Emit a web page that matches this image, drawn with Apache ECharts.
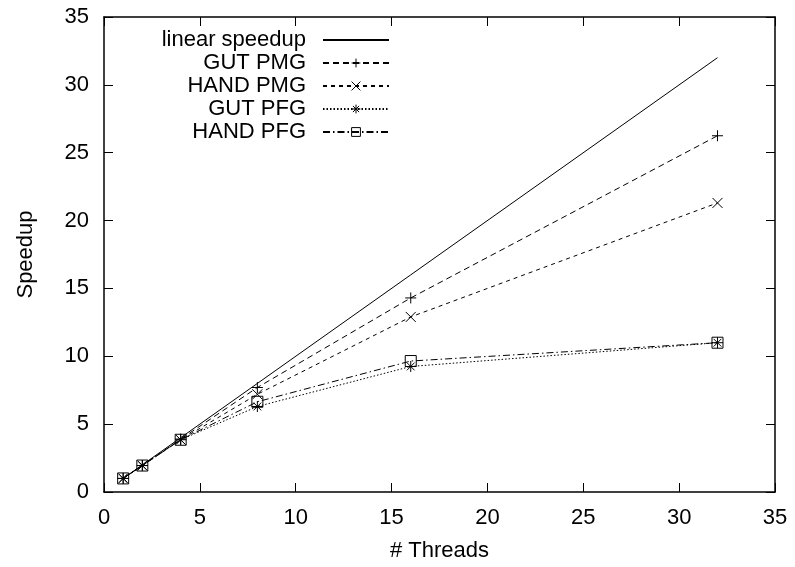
<!DOCTYPE html>
<html>
<head>
<meta charset="utf-8">
<script src="https://cdn.jsdelivr.net/npm/echarts@6/dist/echarts.min.js"></script>
<style>html,body{margin:0;padding:0;background:#fff;}#c{width:795px;height:567px;}</style>
</head>
<body>
<div id="c"></div>
<script>
const threads = [1, 2, 4, 8, 16, 32];
const linearSpeedup = [1, 2, 4, 8, 16, 32];
const gutPMG = [1, 1.95, 3.9, 7.7, 14.3, 26.25];
const handPMG = [1, 1.95, 3.85, 7.2, 12.9, 21.3];
const gutPFG = [1, 1.95, 3.85, 6.3, 9.25, 11.0];
const handPFG = [1, 1.95, 3.85, 6.65, 9.65, 11.0];
const seriesNames = ['linear speedup', 'GUT PMG', 'HAND PMG', 'GUT PFG', 'HAND PFG'];
const axisTicks = [0, 5, 10, 15, 20, 25, 30, 35];

const pair = (ys) => threads.map((x, i) => [x, ys[i]]);
const font = 'Liberation Sans, Arial, Helvetica, sans-serif';
const FS = 22;
const sym = {
  plus: 'path://M5 0 L5 10 M0 5 L10 5',
  cross: 'path://M0 0 L10 10 M10 0 L0 10',
  star: 'path://M5 0 L5 10 M0 5 L10 5 M1.5 1.5 L8.5 8.5 M8.5 1.5 L1.5 8.5'
};
const stroke = { color: 'none', borderColor: '#000', borderWidth: 1 };
function mk(name, ys, dash, symbol, size) {
  return {
    name: name, type: 'line', data: pair(ys),
    symbol: symbol || 'none', symbolSize: size || 12, showSymbol: !!symbol,
    lineStyle: { color: '#000', width: 1, type: dash },
    itemStyle: stroke,
    emphasis: { disabled: true }, animation: false
  };
}
const chart = echarts.init(document.getElementById('c'));
const axisCommon = {
  type: 'value', min: axisTicks[0], max: axisTicks[axisTicks.length - 1], interval: 5,
  splitLine: { show: false },
  axisLine: { show: true, onZero: false, lineStyle: { color: '#000', width: 1.5 } },
  axisTick: { show: true, inside: true, length: 9, lineStyle: { color: '#000', width: 1 } }
};
chart.setOption({
  backgroundColor: '#fff',
  grid: { left: 104, right: 20, top: 17, bottom: 71, containLabel: false },
  xAxis: [
    Object.assign({}, axisCommon, {
      position: 'bottom', name: '# Threads', nameLocation: 'middle', nameGap: 48,
      nameTextStyle: { color: '#000', fontSize: FS, fontFamily: font },
      axisLabel: { color: '#000', fontSize: FS, fontFamily: font, margin: 15 }
    }),
    Object.assign({}, axisCommon, { position: 'top', axisLabel: { show: false } })
  ],
  yAxis: [
    Object.assign({}, axisCommon, {
      position: 'left', name: 'Speedup', nameLocation: 'middle', nameGap: 67,
      nameTextStyle: { color: '#000', fontSize: FS, fontFamily: font },
      axisLabel: { color: '#000', fontSize: FS, fontFamily: font, margin: 15 }
    }),
    Object.assign({}, axisCommon, { position: 'right', axisLabel: { show: false } })
  ],
  legend: {
    data: seriesNames.map((n, i) => i === 0
      ? { name: n, itemStyle: { color: 'none', borderWidth: 0, borderColor: 'none' } }
      : { name: n, itemStyle: stroke }),
    orient: 'vertical', align: 'right',
    right: 400, top: 24, itemWidth: 66, itemHeight: 11, itemGap: 1,
    textStyle: { color: '#000', fontSize: FS, fontFamily: font, padding: [0, 12, 0, 0] },
    selectedMode: false
  },
  series: [
    mk(seriesNames[0], linearSpeedup, 'solid'),
    mk(seriesNames[1], gutPMG, [6, 4], sym.plus, 11),
    mk(seriesNames[2], handPMG, [4, 4], sym.cross, 10),
    mk(seriesNames[3], gutPFG, [1.5, 2], sym.star, 11),
    mk(seriesNames[4], handPFG, [7, 3, 1.5, 3], 'rect', 11)
  ]
});
</script>
</body>
</html>
